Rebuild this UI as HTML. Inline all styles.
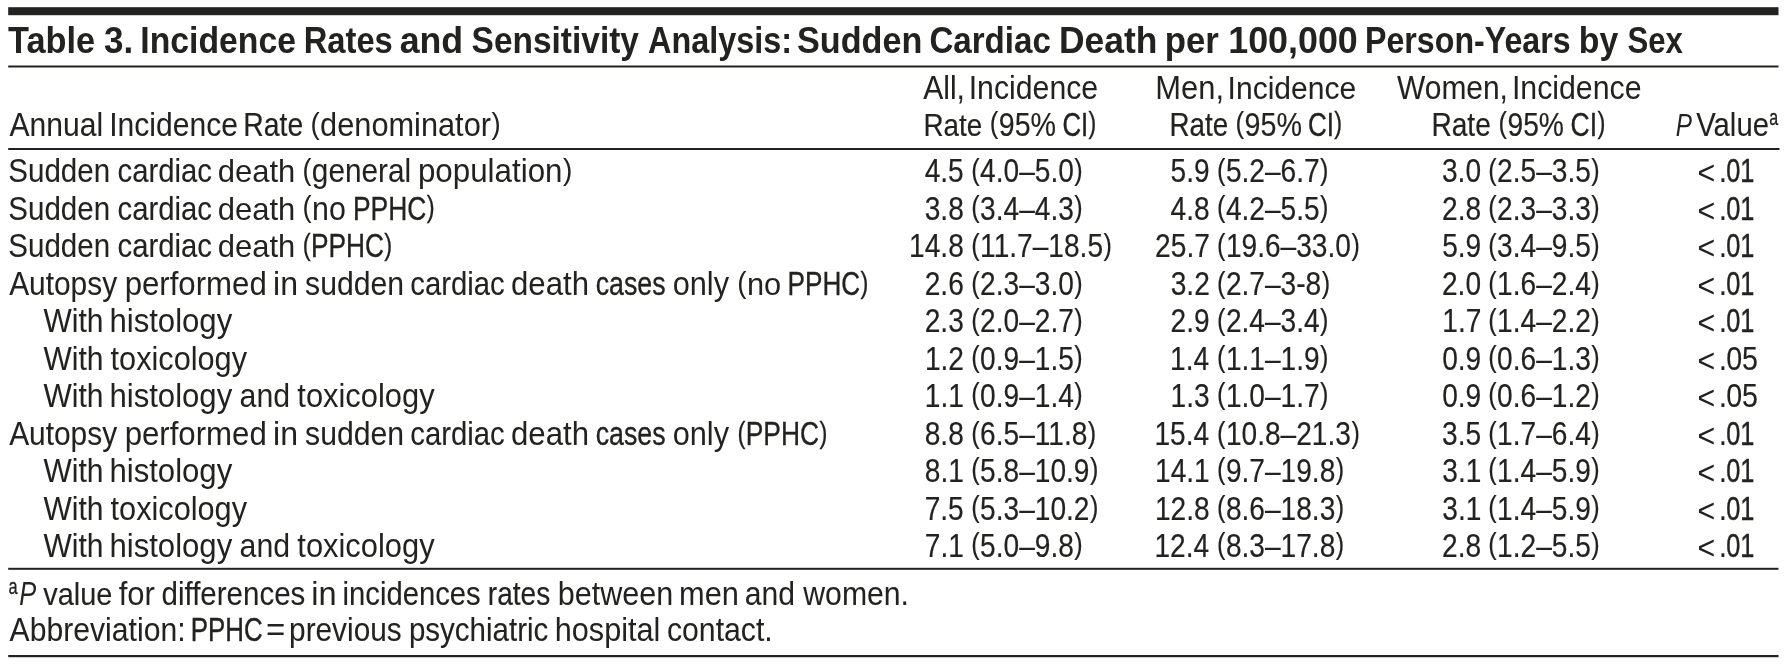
<!DOCTYPE html>
<html><head><meta charset="utf-8"><title>Table 3. Incidence Rates and Sensitivity Analysis</title>
<style>
html,body{margin:0;padding:0;background:#fff;width:1788px;height:665px;overflow:hidden}
svg{display:block;will-change:transform}
text{font-family:"Liberation Sans",sans-serif;font-size:32.3px;fill:#222220;stroke:#222220;stroke-width:0}
rect{fill:#222220}
.sup{stroke:#222220;stroke-width:0.3px}
</style></head><body>
<svg width="1788" height="665" viewBox="0 0 1788 665">
<rect x="8.20" y="7.20" width="1770.30" height="8.00"/>
<rect x="8.20" y="65.50" width="1770.30" height="2.00"/>
<rect x="8.20" y="148.00" width="1771.30" height="2.00"/>
<rect x="8.20" y="567.80" width="1770.30" height="2.00"/>
<rect x="8.20" y="655.00" width="1770.30" height="2.20"/>
<text transform="matrix(0.9282 0 0 1.0000 7.97 52.90)" font-weight="bold" style="font-size:37.00px">Table</text>
<text transform="matrix(0.9464 0 0 1.0000 104.11 52.90)" font-weight="bold" style="font-size:37.00px">3.</text>
<text transform="matrix(0.9128 0 0 1.0000 140.32 52.90)" font-weight="bold" style="font-size:37.00px">Incidence</text>
<text transform="matrix(0.8847 0 0 1.0000 303.69 52.90)" font-weight="bold" style="font-size:37.00px">Rates</text>
<text transform="matrix(0.9654 0 0 1.0000 399.63 52.90)" font-weight="bold" style="font-size:37.00px">and</text>
<text transform="matrix(0.9042 0 0 1.0000 471.60 52.90)" font-weight="bold" style="font-size:37.00px">Sensitivity</text>
<text transform="matrix(0.8755 0 0 1.0000 647.99 52.90)" font-weight="bold" style="font-size:37.00px">Analysis:</text>
<text transform="matrix(0.9238 0 0 1.0000 797.07 52.90)" font-weight="bold" style="font-size:37.00px">Sudden</text>
<text transform="matrix(0.8949 0 0 1.0000 929.38 52.90)" font-weight="bold" style="font-size:37.00px">Cardiac</text>
<text transform="matrix(0.9577 0 0 1.0000 1058.91 52.90)" font-weight="bold" style="font-size:37.00px">Death</text>
<text transform="matrix(0.9402 0 0 1.0000 1164.74 52.90)" font-weight="bold" style="font-size:37.00px">per</text>
<text transform="matrix(0.9687 0 0 1.0000 1228.26 52.90)" font-weight="bold" style="font-size:37.00px">100,000</text>
<text transform="matrix(0.8691 0 0 1.0000 1365.03 52.90)" font-weight="bold" style="font-size:37.00px">Person-Years</text>
<text transform="matrix(0.9132 0 0 1.0000 1578.80 52.90)" font-weight="bold" style="font-size:37.00px">by</text>
<text transform="matrix(0.8419 0 0 1.0000 1627.47 52.90)" font-weight="bold" style="font-size:37.00px">Sex</text>
<text transform="matrix(0.9313 0 0 1.0000 9.42 136.10)" style="stroke-width:0.05px">Annual</text>
<text transform="matrix(0.9314 0 0 1.0000 109.22 136.10)" style="stroke-width:0.05px">Incidence</text>
<text transform="matrix(0.8781 0 0 1.0000 243.36 136.10)" style="stroke-width:0.17px">Rate</text>
<text transform="matrix(0.8569 0 0 0.9100 310.47 133.70)">(</text>
<text transform="matrix(0.9521 0 0 1.0000 320.12 136.10)">denominator</text>
<text transform="matrix(0.8569 0 0 0.9100 491.52 133.70)">)</text>
<text transform="matrix(0.9306 0 0 1.0000 923.22 98.80)" style="stroke-width:0.05px">All,</text>
<text transform="matrix(0.9366 0 0 1.0000 968.70 98.80)">Incidence</text>
<text transform="matrix(0.8609 0 0 1.0000 923.41 135.80)" style="stroke-width:0.21px">Rate</text>
<text transform="matrix(0.7979 0 0 0.9100 989.77 133.40)" style="stroke-width:0.15px">(</text>
<text transform="matrix(0.8865 0 0 1.0000 998.75 135.80)" style="stroke-width:0.15px">95%</text>
<text transform="matrix(0.7968 0 0 1.0000 1062.51 135.80)" style="stroke-width:0.39px">CI</text>
<text transform="matrix(0.7171 0 0 0.9100 1088.61 133.40)" style="stroke-width:0.39px">)</text>
<text transform="matrix(0.9560 0 0 1.0000 1155.35 98.80)">Men,</text>
<text transform="matrix(0.9299 0 0 1.0000 1227.62 98.80)" style="stroke-width:0.05px">Incidence</text>
<text transform="matrix(0.8594 0 0 1.0000 1169.51 135.80)" style="stroke-width:0.22px">Rate</text>
<text transform="matrix(0.8004 0 0 0.9100 1235.56 133.40)" style="stroke-width:0.14px">(</text>
<text transform="matrix(0.8893 0 0 1.0000 1244.57 135.80)" style="stroke-width:0.14px">95%</text>
<text transform="matrix(0.8070 0 0 1.0000 1307.90 135.80)" style="stroke-width:0.36px">CI</text>
<text transform="matrix(0.7263 0 0 0.9100 1334.32 133.40)" style="stroke-width:0.36px">)</text>
<text transform="matrix(0.9271 0 0 1.0000 1397.05 98.80)" style="stroke-width:0.06px">Women,</text>
<text transform="matrix(0.9381 0 0 1.0000 1511.90 98.80)">Incidence</text>
<text transform="matrix(0.8719 0 0 1.0000 1431.38 135.80)" style="stroke-width:0.19px">Rate</text>
<text transform="matrix(0.7867 0 0 0.9100 1498.58 133.40)" style="stroke-width:0.18px">(</text>
<text transform="matrix(0.8741 0 0 1.0000 1507.44 135.80)" style="stroke-width:0.18px">95%</text>
<text transform="matrix(0.8222 0 0 1.0000 1570.47 135.80)" style="stroke-width:0.32px">CI</text>
<text transform="matrix(0.7400 0 0 0.9100 1597.40 133.40)" style="stroke-width:0.32px">)</text>
<text transform="matrix(0.7519 0 0 1.0000 1675.87 135.80)" font-style="italic">P</text>
<text transform="matrix(0.9065 0 0 1.0000 1696.25 135.80)" style="stroke-width:0.10px">Value</text>
<text transform="matrix(0.7273 0 0 1.0000 1769.32 124.80)" class="sup" style="font-size:22.00px">a</text>
<text transform="matrix(0.9137 0 0 1.0000 8.37 182.10)" style="stroke-width:0.09px">Sudden</text>
<text transform="matrix(0.9065 0 0 1.0000 117.56 182.10)" style="stroke-width:0.10px">cardiac</text>
<text transform="matrix(0.9605 0 0 1.0000 217.68 182.10)">death</text>
<text transform="matrix(0.8296 0 0 0.9100 302.52 179.70)" style="stroke-width:0.07px">(</text>
<text transform="matrix(0.9218 0 0 1.0000 311.85 182.10)" style="stroke-width:0.07px">general</text>
<text transform="matrix(0.9699 0 0 1.0000 417.96 182.10)">population</text>
<text transform="matrix(0.8729 0 0 0.9100 562.99 179.70)">)</text>
<text transform="matrix(0.8705 0 0 1.0000 924.64 182.10)" style="stroke-width:0.19px">4.5</text>
<text transform="matrix(0.7834 0 0 0.9100 971.29 179.70)" style="stroke-width:0.19px">(</text>
<text transform="matrix(0.8705 0 0 1.0000 980.11 182.10)" style="stroke-width:0.19px">4.0–5.0</text>
<text transform="matrix(0.7834 0 0 0.9100 1074.31 179.70)" style="stroke-width:0.19px">)</text>
<text transform="matrix(0.8705 0 0 1.0000 1170.58 182.10)" style="stroke-width:0.19px">5.9</text>
<text transform="matrix(0.7834 0 0 0.9100 1217.09 179.70)" style="stroke-width:0.19px">(</text>
<text transform="matrix(0.8705 0 0 1.0000 1225.91 182.10)" style="stroke-width:0.19px">5.2–6.7</text>
<text transform="matrix(0.7834 0 0 0.9100 1320.11 179.70)" style="stroke-width:0.19px">)</text>
<text transform="matrix(0.8705 0 0 1.0000 1441.97 182.10)" style="stroke-width:0.19px">3.0</text>
<text transform="matrix(0.7834 0 0 0.9100 1488.29 179.70)" style="stroke-width:0.19px">(</text>
<text transform="matrix(0.8705 0 0 1.0000 1497.11 182.10)" style="stroke-width:0.19px">2.5–3.5</text>
<text transform="matrix(0.7834 0 0 0.9100 1591.31 179.70)" style="stroke-width:0.19px">)</text>
<text transform="matrix(0.9384 0 0 1.0000 1697.38 184.40)">&lt;</text>
<text transform="matrix(0.8705 0 0 1.0000 1718.96 182.10)" style="stroke-width:0.19px">.</text>
<text transform="matrix(0.7842 0 0 1.0000 1726.29 182.10)" style="stroke-width:0.43px">01</text>
<text transform="matrix(0.9137 0 0 1.0000 8.37 219.60)" style="stroke-width:0.09px">Sudden</text>
<text transform="matrix(0.9065 0 0 1.0000 117.56 219.60)" style="stroke-width:0.10px">cardiac</text>
<text transform="matrix(0.9605 0 0 1.0000 217.68 219.60)">death</text>
<text transform="matrix(0.8468 0 0 0.9100 302.49 217.20)">(</text>
<text transform="matrix(0.9409 0 0 1.0000 312.02 219.60)">no</text>
<text transform="matrix(0.8186 0 0 1.0000 352.92 219.60)" style="stroke-width:0.33px">PPHC</text>
<text transform="matrix(0.7368 0 0 0.9100 426.75 217.20)" style="stroke-width:0.33px">)</text>
<text transform="matrix(0.8705 0 0 1.0000 924.71 219.60)" style="stroke-width:0.19px">3.8</text>
<text transform="matrix(0.7834 0 0 0.9100 971.29 217.20)" style="stroke-width:0.19px">(</text>
<text transform="matrix(0.8705 0 0 1.0000 980.11 219.60)" style="stroke-width:0.19px">3.4–4.3</text>
<text transform="matrix(0.7834 0 0 0.9100 1074.31 217.20)" style="stroke-width:0.19px">)</text>
<text transform="matrix(0.8705 0 0 1.0000 1170.51 219.60)" style="stroke-width:0.19px">4.8</text>
<text transform="matrix(0.7834 0 0 0.9100 1217.09 217.20)" style="stroke-width:0.19px">(</text>
<text transform="matrix(0.8705 0 0 1.0000 1225.91 219.60)" style="stroke-width:0.19px">4.2–5.5</text>
<text transform="matrix(0.7834 0 0 0.9100 1320.11 217.20)" style="stroke-width:0.19px">)</text>
<text transform="matrix(0.8705 0 0 1.0000 1442.11 219.60)" style="stroke-width:0.19px">2.8</text>
<text transform="matrix(0.7834 0 0 0.9100 1488.29 217.20)" style="stroke-width:0.19px">(</text>
<text transform="matrix(0.8705 0 0 1.0000 1497.11 219.60)" style="stroke-width:0.19px">2.3–3.3</text>
<text transform="matrix(0.7834 0 0 0.9100 1591.31 217.20)" style="stroke-width:0.19px">)</text>
<text transform="matrix(0.9384 0 0 1.0000 1697.38 221.90)">&lt;</text>
<text transform="matrix(0.8705 0 0 1.0000 1718.96 219.60)" style="stroke-width:0.19px">.</text>
<text transform="matrix(0.7842 0 0 1.0000 1726.29 219.60)" style="stroke-width:0.43px">01</text>
<text transform="matrix(0.9137 0 0 1.0000 8.37 257.00)" style="stroke-width:0.09px">Sudden</text>
<text transform="matrix(0.9065 0 0 1.0000 117.56 257.00)" style="stroke-width:0.10px">cardiac</text>
<text transform="matrix(0.9605 0 0 1.0000 217.68 257.00)">death</text>
<text transform="matrix(0.7318 0 0 0.9100 302.67 254.60)" style="stroke-width:0.34px">(</text>
<text transform="matrix(0.8132 0 0 1.0000 310.90 257.00)" style="stroke-width:0.34px">PPHC</text>
<text transform="matrix(0.7318 0 0 0.9100 384.24 254.60)" style="stroke-width:0.34px">)</text>
<text transform="matrix(0.8705 0 0 1.0000 909.11 257.00)" style="stroke-width:0.19px">14.8</text>
<text transform="matrix(0.7834 0 0 0.9100 971.29 254.60)" style="stroke-width:0.19px">(</text>
<text transform="matrix(0.8705 0 0 1.0000 980.11 257.00)" style="stroke-width:0.19px">11.7–18.5</text>
<text transform="matrix(0.7834 0 0 0.9100 1103.49 254.60)" style="stroke-width:0.19px">)</text>
<text transform="matrix(0.8705 0 0 1.0000 1155.12 257.00)" style="stroke-width:0.19px">25.7</text>
<text transform="matrix(0.7834 0 0 0.9100 1217.09 254.60)" style="stroke-width:0.19px">(</text>
<text transform="matrix(0.8705 0 0 1.0000 1225.91 257.00)" style="stroke-width:0.19px">19.6–33.0</text>
<text transform="matrix(0.7834 0 0 0.9100 1351.38 254.60)" style="stroke-width:0.19px">)</text>
<text transform="matrix(0.8705 0 0 1.0000 1442.18 257.00)" style="stroke-width:0.19px">5.9</text>
<text transform="matrix(0.7834 0 0 0.9100 1488.29 254.60)" style="stroke-width:0.19px">(</text>
<text transform="matrix(0.8705 0 0 1.0000 1497.11 257.00)" style="stroke-width:0.19px">3.4–9.5</text>
<text transform="matrix(0.7834 0 0 0.9100 1591.31 254.60)" style="stroke-width:0.19px">)</text>
<text transform="matrix(0.9384 0 0 1.0000 1697.38 259.30)">&lt;</text>
<text transform="matrix(0.8705 0 0 1.0000 1718.96 257.00)" style="stroke-width:0.19px">.</text>
<text transform="matrix(0.7842 0 0 1.0000 1726.29 257.00)" style="stroke-width:0.43px">01</text>
<text transform="matrix(0.9260 0 0 1.0000 9.13 294.90)" style="stroke-width:0.06px">Autopsy</text>
<text transform="matrix(0.9651 0 0 1.0000 124.67 294.90)">performed</text>
<text transform="matrix(0.9936 0 0 1.0000 273.03 294.90)">in</text>
<text transform="matrix(0.9344 0 0 1.0000 305.07 294.90)" style="stroke-width:0.04px">sudden</text>
<text transform="matrix(0.9065 0 0 1.0000 410.36 294.90)" style="stroke-width:0.10px">cardiac</text>
<text transform="matrix(0.9656 0 0 1.0000 510.97 294.90)">death</text>
<text transform="matrix(0.8293 0 0 1.0000 595.66 294.90)" style="stroke-width:0.30px">cases</text>
<text transform="matrix(0.9513 0 0 1.0000 672.69 294.90)">only</text>
<text transform="matrix(0.8593 0 0 0.9100 737.27 292.50)">(</text>
<text transform="matrix(0.9547 0 0 1.0000 746.94 294.90)">no</text>
<text transform="matrix(0.8092 0 0 1.0000 787.54 294.90)" style="stroke-width:0.35px">PPHC</text>
<text transform="matrix(0.7283 0 0 0.9100 860.53 292.50)" style="stroke-width:0.35px">)</text>
<text transform="matrix(0.8705 0 0 1.0000 924.71 294.90)" style="stroke-width:0.19px">2.6</text>
<text transform="matrix(0.7834 0 0 0.9100 971.29 292.50)" style="stroke-width:0.19px">(</text>
<text transform="matrix(0.8705 0 0 1.0000 980.11 294.90)" style="stroke-width:0.19px">2.3–3.0</text>
<text transform="matrix(0.7834 0 0 0.9100 1074.31 292.50)" style="stroke-width:0.19px">)</text>
<text transform="matrix(0.8705 0 0 1.0000 1170.72 294.90)" style="stroke-width:0.19px">3.2</text>
<text transform="matrix(0.7834 0 0 0.9100 1217.09 292.50)" style="stroke-width:0.19px">(</text>
<text transform="matrix(0.8705 0 0 1.0000 1225.91 294.90)" style="stroke-width:0.19px">2.7–3-8</text>
<text transform="matrix(0.7834 0 0 0.9100 1321.66 292.50)" style="stroke-width:0.19px">)</text>
<text transform="matrix(0.8705 0 0 1.0000 1441.97 294.90)" style="stroke-width:0.19px">2.0</text>
<text transform="matrix(0.7834 0 0 0.9100 1488.29 292.50)" style="stroke-width:0.19px">(</text>
<text transform="matrix(0.8705 0 0 1.0000 1497.11 294.90)" style="stroke-width:0.19px">1.6–2.4</text>
<text transform="matrix(0.7834 0 0 0.9100 1591.31 292.50)" style="stroke-width:0.19px">)</text>
<text transform="matrix(0.9384 0 0 1.0000 1697.38 297.20)">&lt;</text>
<text transform="matrix(0.8705 0 0 1.0000 1718.96 294.90)" style="stroke-width:0.19px">.</text>
<text transform="matrix(0.7842 0 0 1.0000 1726.29 294.90)" style="stroke-width:0.43px">01</text>
<text transform="matrix(0.9288 0 0 1.0000 43.45 332.00)" style="stroke-width:0.05px">With</text>
<text transform="matrix(0.9635 0 0 1.0000 109.42 332.00)">histology</text>
<text transform="matrix(0.8705 0 0 1.0000 924.71 332.00)" style="stroke-width:0.19px">2.3</text>
<text transform="matrix(0.7834 0 0 0.9100 971.29 329.60)" style="stroke-width:0.19px">(</text>
<text transform="matrix(0.8705 0 0 1.0000 980.11 332.00)" style="stroke-width:0.19px">2.0–2.7</text>
<text transform="matrix(0.7834 0 0 0.9100 1074.31 329.60)" style="stroke-width:0.19px">)</text>
<text transform="matrix(0.8705 0 0 1.0000 1170.58 332.00)" style="stroke-width:0.19px">2.9</text>
<text transform="matrix(0.7834 0 0 0.9100 1217.09 329.60)" style="stroke-width:0.19px">(</text>
<text transform="matrix(0.8705 0 0 1.0000 1225.91 332.00)" style="stroke-width:0.19px">2.4–3.4</text>
<text transform="matrix(0.7834 0 0 0.9100 1320.11 329.60)" style="stroke-width:0.19px">)</text>
<text transform="matrix(0.8705 0 0 1.0000 1442.32 332.00)" style="stroke-width:0.19px">1.7</text>
<text transform="matrix(0.7834 0 0 0.9100 1488.29 329.60)" style="stroke-width:0.19px">(</text>
<text transform="matrix(0.8705 0 0 1.0000 1497.11 332.00)" style="stroke-width:0.19px">1.4–2.2</text>
<text transform="matrix(0.7834 0 0 0.9100 1591.31 329.60)" style="stroke-width:0.19px">)</text>
<text transform="matrix(0.9384 0 0 1.0000 1697.38 334.30)">&lt;</text>
<text transform="matrix(0.8705 0 0 1.0000 1718.96 332.00)" style="stroke-width:0.19px">.</text>
<text transform="matrix(0.7842 0 0 1.0000 1726.29 332.00)" style="stroke-width:0.43px">01</text>
<text transform="matrix(0.9288 0 0 1.0000 43.45 369.60)" style="stroke-width:0.05px">With</text>
<text transform="matrix(0.9505 0 0 1.0000 110.54 369.60)">toxicology</text>
<text transform="matrix(0.8705 0 0 1.0000 924.92 369.60)" style="stroke-width:0.19px">1.2</text>
<text transform="matrix(0.7834 0 0 0.9100 971.29 367.20)" style="stroke-width:0.19px">(</text>
<text transform="matrix(0.8705 0 0 1.0000 980.11 369.60)" style="stroke-width:0.19px">0.9–1.5</text>
<text transform="matrix(0.7834 0 0 0.9100 1074.31 367.20)" style="stroke-width:0.19px">)</text>
<text transform="matrix(0.8705 0 0 1.0000 1170.09 369.60)" style="stroke-width:0.19px">1.4</text>
<text transform="matrix(0.7834 0 0 0.9100 1217.09 367.20)" style="stroke-width:0.19px">(</text>
<text transform="matrix(0.8705 0 0 1.0000 1225.91 369.60)" style="stroke-width:0.19px">1.1–1.9</text>
<text transform="matrix(0.7834 0 0 0.9100 1320.11 367.20)" style="stroke-width:0.19px">)</text>
<text transform="matrix(0.8705 0 0 1.0000 1442.18 369.60)" style="stroke-width:0.19px">0.9</text>
<text transform="matrix(0.7834 0 0 0.9100 1488.29 367.20)" style="stroke-width:0.19px">(</text>
<text transform="matrix(0.8705 0 0 1.0000 1497.11 369.60)" style="stroke-width:0.19px">0.6–1.3</text>
<text transform="matrix(0.7834 0 0 0.9100 1591.31 367.20)" style="stroke-width:0.19px">)</text>
<text transform="matrix(0.9384 0 0 1.0000 1697.38 371.90)">&lt;</text>
<text transform="matrix(0.8705 0 0 1.0000 1718.96 369.60)" style="stroke-width:0.19px">.</text>
<text transform="matrix(0.8867 0 0 1.0000 1726.15 369.60)" style="stroke-width:0.15px">05</text>
<text transform="matrix(0.9288 0 0 1.0000 43.45 406.80)" style="stroke-width:0.05px">With</text>
<text transform="matrix(0.9635 0 0 1.0000 109.42 406.80)">histology</text>
<text transform="matrix(0.9392 0 0 1.0000 239.51 406.80)">and</text>
<text transform="matrix(0.9560 0 0 1.0000 297.34 406.80)">toxicology</text>
<text transform="matrix(0.8705 0 0 1.0000 924.85 406.80)" style="stroke-width:0.19px">1.1</text>
<text transform="matrix(0.7834 0 0 0.9100 971.29 404.40)" style="stroke-width:0.19px">(</text>
<text transform="matrix(0.8705 0 0 1.0000 980.11 406.80)" style="stroke-width:0.19px">0.9–1.4</text>
<text transform="matrix(0.7834 0 0 0.9100 1074.31 404.40)" style="stroke-width:0.19px">)</text>
<text transform="matrix(0.8705 0 0 1.0000 1170.51 406.80)" style="stroke-width:0.19px">1.3</text>
<text transform="matrix(0.7834 0 0 0.9100 1217.09 404.40)" style="stroke-width:0.19px">(</text>
<text transform="matrix(0.8705 0 0 1.0000 1225.91 406.80)" style="stroke-width:0.19px">1.0–1.7</text>
<text transform="matrix(0.7834 0 0 0.9100 1320.11 404.40)" style="stroke-width:0.19px">)</text>
<text transform="matrix(0.8705 0 0 1.0000 1442.18 406.80)" style="stroke-width:0.19px">0.9</text>
<text transform="matrix(0.7834 0 0 0.9100 1488.29 404.40)" style="stroke-width:0.19px">(</text>
<text transform="matrix(0.8705 0 0 1.0000 1497.11 406.80)" style="stroke-width:0.19px">0.6–1.2</text>
<text transform="matrix(0.7834 0 0 0.9100 1591.31 404.40)" style="stroke-width:0.19px">)</text>
<text transform="matrix(0.9384 0 0 1.0000 1697.38 409.10)">&lt;</text>
<text transform="matrix(0.8705 0 0 1.0000 1718.96 406.80)" style="stroke-width:0.19px">.</text>
<text transform="matrix(0.8867 0 0 1.0000 1726.15 406.80)" style="stroke-width:0.15px">05</text>
<text transform="matrix(0.9260 0 0 1.0000 9.13 444.90)" style="stroke-width:0.06px">Autopsy</text>
<text transform="matrix(0.9651 0 0 1.0000 124.67 444.90)">performed</text>
<text transform="matrix(0.9936 0 0 1.0000 273.03 444.90)">in</text>
<text transform="matrix(0.9344 0 0 1.0000 305.07 444.90)" style="stroke-width:0.04px">sudden</text>
<text transform="matrix(0.9065 0 0 1.0000 410.36 444.90)" style="stroke-width:0.10px">cardiac</text>
<text transform="matrix(0.9656 0 0 1.0000 510.97 444.90)">death</text>
<text transform="matrix(0.8293 0 0 1.0000 595.66 444.90)" style="stroke-width:0.30px">cases</text>
<text transform="matrix(0.9513 0 0 1.0000 672.69 444.90)">only</text>
<text transform="matrix(0.7352 0 0 0.9100 737.46 442.50)" style="stroke-width:0.33px">(</text>
<text transform="matrix(0.8169 0 0 1.0000 745.74 444.90)" style="stroke-width:0.33px">PPHC</text>
<text transform="matrix(0.7352 0 0 0.9100 819.41 442.50)" style="stroke-width:0.33px">)</text>
<text transform="matrix(0.8705 0 0 1.0000 924.71 444.90)" style="stroke-width:0.19px">8.8</text>
<text transform="matrix(0.7834 0 0 0.9100 971.29 442.50)" style="stroke-width:0.19px">(</text>
<text transform="matrix(0.8705 0 0 1.0000 980.11 444.90)" style="stroke-width:0.19px">6.5–11.8</text>
<text transform="matrix(0.7834 0 0 0.9100 1087.86 442.50)" style="stroke-width:0.19px">)</text>
<text transform="matrix(0.8705 0 0 1.0000 1154.49 444.90)" style="stroke-width:0.19px">15.4</text>
<text transform="matrix(0.7834 0 0 0.9100 1217.09 442.50)" style="stroke-width:0.19px">(</text>
<text transform="matrix(0.8705 0 0 1.0000 1225.91 444.90)" style="stroke-width:0.19px">10.8–21.3</text>
<text transform="matrix(0.7834 0 0 0.9100 1351.38 442.50)" style="stroke-width:0.19px">)</text>
<text transform="matrix(0.8705 0 0 1.0000 1442.04 444.90)" style="stroke-width:0.19px">3.5</text>
<text transform="matrix(0.7834 0 0 0.9100 1488.29 442.50)" style="stroke-width:0.19px">(</text>
<text transform="matrix(0.8705 0 0 1.0000 1497.11 444.90)" style="stroke-width:0.19px">1.7–6.4</text>
<text transform="matrix(0.7834 0 0 0.9100 1591.31 442.50)" style="stroke-width:0.19px">)</text>
<text transform="matrix(0.9384 0 0 1.0000 1697.38 447.20)">&lt;</text>
<text transform="matrix(0.8705 0 0 1.0000 1718.96 444.90)" style="stroke-width:0.19px">.</text>
<text transform="matrix(0.7842 0 0 1.0000 1726.29 444.90)" style="stroke-width:0.43px">01</text>
<text transform="matrix(0.9288 0 0 1.0000 43.45 481.60)" style="stroke-width:0.05px">With</text>
<text transform="matrix(0.9635 0 0 1.0000 109.42 481.60)">histology</text>
<text transform="matrix(0.8705 0 0 1.0000 924.85 481.60)" style="stroke-width:0.19px">8.1</text>
<text transform="matrix(0.7834 0 0 0.9100 971.29 479.20)" style="stroke-width:0.19px">(</text>
<text transform="matrix(0.8705 0 0 1.0000 980.11 481.60)" style="stroke-width:0.19px">5.8–10.9</text>
<text transform="matrix(0.7834 0 0 0.9100 1089.94 479.20)" style="stroke-width:0.19px">)</text>
<text transform="matrix(0.8705 0 0 1.0000 1155.05 481.60)" style="stroke-width:0.19px">14.1</text>
<text transform="matrix(0.7834 0 0 0.9100 1217.09 479.20)" style="stroke-width:0.19px">(</text>
<text transform="matrix(0.8705 0 0 1.0000 1225.91 481.60)" style="stroke-width:0.19px">9.7–19.8</text>
<text transform="matrix(0.7834 0 0 0.9100 1335.74 479.20)" style="stroke-width:0.19px">)</text>
<text transform="matrix(0.8705 0 0 1.0000 1442.25 481.60)" style="stroke-width:0.19px">3.1</text>
<text transform="matrix(0.7834 0 0 0.9100 1488.29 479.20)" style="stroke-width:0.19px">(</text>
<text transform="matrix(0.8705 0 0 1.0000 1497.11 481.60)" style="stroke-width:0.19px">1.4–5.9</text>
<text transform="matrix(0.7834 0 0 0.9100 1591.31 479.20)" style="stroke-width:0.19px">)</text>
<text transform="matrix(0.9384 0 0 1.0000 1697.38 483.90)">&lt;</text>
<text transform="matrix(0.8705 0 0 1.0000 1718.96 481.60)" style="stroke-width:0.19px">.</text>
<text transform="matrix(0.7842 0 0 1.0000 1726.29 481.60)" style="stroke-width:0.43px">01</text>
<text transform="matrix(0.9288 0 0 1.0000 43.45 519.50)" style="stroke-width:0.05px">With</text>
<text transform="matrix(0.9505 0 0 1.0000 110.54 519.50)">toxicology</text>
<text transform="matrix(0.8705 0 0 1.0000 924.64 519.50)" style="stroke-width:0.19px">7.5</text>
<text transform="matrix(0.7834 0 0 0.9100 971.29 517.10)" style="stroke-width:0.19px">(</text>
<text transform="matrix(0.8705 0 0 1.0000 980.11 519.50)" style="stroke-width:0.19px">5.3–10.2</text>
<text transform="matrix(0.7834 0 0 0.9100 1089.94 517.10)" style="stroke-width:0.19px">)</text>
<text transform="matrix(0.8705 0 0 1.0000 1154.91 519.50)" style="stroke-width:0.19px">12.8</text>
<text transform="matrix(0.7834 0 0 0.9100 1217.09 517.10)" style="stroke-width:0.19px">(</text>
<text transform="matrix(0.8705 0 0 1.0000 1225.91 519.50)" style="stroke-width:0.19px">8.6–18.3</text>
<text transform="matrix(0.7834 0 0 0.9100 1335.74 517.10)" style="stroke-width:0.19px">)</text>
<text transform="matrix(0.8705 0 0 1.0000 1442.25 519.50)" style="stroke-width:0.19px">3.1</text>
<text transform="matrix(0.7834 0 0 0.9100 1488.29 517.10)" style="stroke-width:0.19px">(</text>
<text transform="matrix(0.8705 0 0 1.0000 1497.11 519.50)" style="stroke-width:0.19px">1.4–5.9</text>
<text transform="matrix(0.7834 0 0 0.9100 1591.31 517.10)" style="stroke-width:0.19px">)</text>
<text transform="matrix(0.9384 0 0 1.0000 1697.38 521.80)">&lt;</text>
<text transform="matrix(0.8705 0 0 1.0000 1718.96 519.50)" style="stroke-width:0.19px">.</text>
<text transform="matrix(0.7842 0 0 1.0000 1726.29 519.50)" style="stroke-width:0.43px">01</text>
<text transform="matrix(0.9288 0 0 1.0000 43.45 556.80)" style="stroke-width:0.05px">With</text>
<text transform="matrix(0.9635 0 0 1.0000 109.42 556.80)">histology</text>
<text transform="matrix(0.9392 0 0 1.0000 239.51 556.80)">and</text>
<text transform="matrix(0.9560 0 0 1.0000 297.34 556.80)">toxicology</text>
<text transform="matrix(0.8705 0 0 1.0000 924.85 556.80)" style="stroke-width:0.19px">7.1</text>
<text transform="matrix(0.7834 0 0 0.9100 971.29 554.40)" style="stroke-width:0.19px">(</text>
<text transform="matrix(0.8705 0 0 1.0000 980.11 556.80)" style="stroke-width:0.19px">5.0–9.8</text>
<text transform="matrix(0.7834 0 0 0.9100 1074.31 554.40)" style="stroke-width:0.19px">)</text>
<text transform="matrix(0.8705 0 0 1.0000 1154.49 556.80)" style="stroke-width:0.19px">12.4</text>
<text transform="matrix(0.7834 0 0 0.9100 1217.09 554.40)" style="stroke-width:0.19px">(</text>
<text transform="matrix(0.8705 0 0 1.0000 1225.91 556.80)" style="stroke-width:0.19px">8.3–17.8</text>
<text transform="matrix(0.7834 0 0 0.9100 1335.74 554.40)" style="stroke-width:0.19px">)</text>
<text transform="matrix(0.8705 0 0 1.0000 1442.11 556.80)" style="stroke-width:0.19px">2.8</text>
<text transform="matrix(0.7834 0 0 0.9100 1488.29 554.40)" style="stroke-width:0.19px">(</text>
<text transform="matrix(0.8705 0 0 1.0000 1497.11 556.80)" style="stroke-width:0.19px">1.2–5.5</text>
<text transform="matrix(0.7834 0 0 0.9100 1591.31 554.40)" style="stroke-width:0.19px">)</text>
<text transform="matrix(0.9384 0 0 1.0000 1697.38 559.10)">&lt;</text>
<text transform="matrix(0.8705 0 0 1.0000 1718.96 556.80)" style="stroke-width:0.19px">.</text>
<text transform="matrix(0.7842 0 0 1.0000 1726.29 556.80)" style="stroke-width:0.43px">01</text>
<text transform="matrix(0.7450 0 0 1.0000 8.50 593.70)" class="sup" style="font-size:22.00px">a</text>
<text transform="matrix(0.7863 0 0 1.0000 19.34 604.90)" font-style="italic">P</text>
<text transform="matrix(0.8961 0 0 1.0000 43.16 604.90)" style="stroke-width:0.13px">value</text>
<text transform="matrix(0.9608 0 0 1.0000 118.63 604.90)">for</text>
<text transform="matrix(0.9136 0 0 1.0000 161.55 604.90)" style="stroke-width:0.09px">differences</text>
<text transform="matrix(1.0080 0 0 1.0000 311.30 604.90)">in</text>
<text transform="matrix(0.9048 0 0 1.0000 342.53 604.90)" style="stroke-width:0.11px">incidences</text>
<text transform="matrix(0.8689 0 0 1.0000 487.81 604.90)" style="stroke-width:0.19px">rates</text>
<text transform="matrix(0.9466 0 0 1.0000 557.81 604.90)">between</text>
<text transform="matrix(0.9531 0 0 1.0000 679.02 604.90)">men</text>
<text transform="matrix(0.9333 0 0 1.0000 744.82 604.90)" style="stroke-width:0.04px">and</text>
<text transform="matrix(0.9351 0 0 1.0000 803.30 604.90)" style="stroke-width:0.04px">women.</text>
<text transform="matrix(0.9334 0 0 1.0000 9.62 640.90)" style="stroke-width:0.04px">Abbreviation:</text>
<text transform="matrix(0.8011 0 0 1.0000 190.87 640.90)" style="stroke-width:0.38px">PPHC</text>
<text transform="matrix(1.0214 0 0 1.0000 265.95 640.90)">=</text>
<text transform="matrix(0.9229 0 0 1.0000 289.06 640.90)" style="stroke-width:0.07px">previous</text>
<text transform="matrix(0.9143 0 0 1.0000 408.88 640.90)" style="stroke-width:0.09px">psychiatric</text>
<text transform="matrix(0.9494 0 0 1.0000 554.75 640.90)">hospital</text>
<text transform="matrix(0.9361 0 0 1.0000 666.91 640.90)" style="stroke-width:0.04px">contact.</text>
</svg>
</body></html>
